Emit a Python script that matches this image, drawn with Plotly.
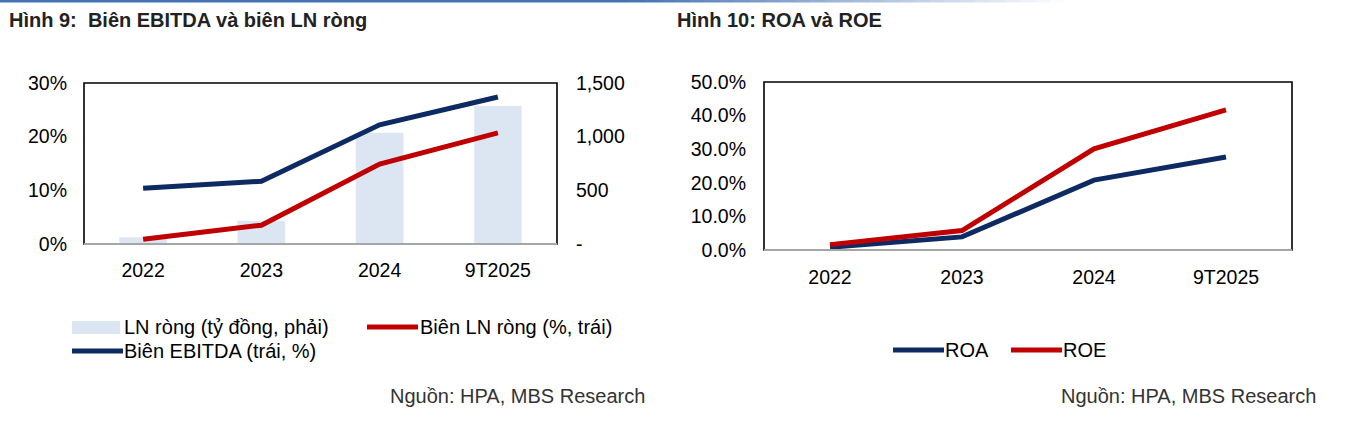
import plotly.graph_objects as go

W, H = 1345, 422

# ---------------- data ----------------
categories = ["2022", "2023", "2024", "9T2025"]
ln_rong = [62, 215, 1035, 1285]            # tỷ đồng (right axis)
bien_ln_rong = [0.009, 0.035, 0.149, 0.207]
bien_ebitda = [0.104, 0.117, 0.222, 0.274]
roa = [0.008, 0.039, 0.208, 0.277]
roe = [0.016, 0.058, 0.301, 0.417]

right_ticks_vals = [0, 500, 1000, 1500]
right_ticks_text = ["-", "500", "1,000", "1,500"]

NAVY = "#0E2A62"
RED = "#C00000"
BAR = "#DCE6F2"
FONT = "Liberation Sans, Arial, sans-serif"
LW = 5


def px(x):
    return x / W


def py(y):
    return 1 - y / H


fig = go.Figure()

# bars on primary y (right side), lines on overlaying y2 (left side) so lines draw above bars
fig.add_trace(go.Bar(x=categories, y=ln_rong, marker_color=BAR, width=0.4,
                     yaxis="y", xaxis="x", name="LN ròng (tỷ đồng, phải)", showlegend=False))
fig.add_trace(go.Scatter(x=categories, y=bien_ebitda, mode="lines", line=dict(color=NAVY, width=LW),
                         xaxis="x", yaxis="y2", name="Biên EBITDA (trái, %)", showlegend=False))
fig.add_trace(go.Scatter(x=categories, y=bien_ln_rong, mode="lines", line=dict(color=RED, width=LW),
                         xaxis="x", yaxis="y2", name="Biên LN ròng (%, trái)", showlegend=False))

fig.add_trace(go.Scatter(x=categories, y=roa, mode="lines", line=dict(color=NAVY, width=LW),
                         xaxis="x3", yaxis="y3", name="ROA", showlegend=False))
fig.add_trace(go.Scatter(x=categories, y=roe, mode="lines", line=dict(color=RED, width=LW),
                         xaxis="x3", yaxis="y3", name="ROE", showlegend=False))

L = dict(x0=84, x1=557, y0=83, y1=244)
R = dict(x0=764, x1=1292, y0=82, y1=250)

tickfont = dict(family=FONT, size=19.5, color="#000000")

fig.update_layout(
    width=W, height=H, margin=dict(l=0, r=0, t=0, b=0, autoexpand=False),
    paper_bgcolor="white", plot_bgcolor="white",
    font=dict(family=FONT, size=19, color="#000"),
    xaxis=dict(domain=[px(L["x0"]), px(L["x1"])], anchor="y", type="category", range=[-0.5, 3.5],
               showline=False, showgrid=False, ticks="", tickfont=tickfont, ticklabelstandoff=12),
    yaxis=dict(domain=[py(L["y1"]), py(L["y0"])], anchor="x", side="right", range=[0, 1500],
               tickvals=right_ticks_vals, ticktext=right_ticks_text, showgrid=False, zeroline=False,
               ticks="", tickfont=tickfont, ticklabelstandoff=18),
    yaxis2=dict(overlaying="y", side="left", anchor="x", range=[0, 0.30], dtick=0.1,
                tickformat=".0%", showgrid=False, zeroline=False, ticks="", tickfont=tickfont,
                ticklabelstandoff=16),
    xaxis3=dict(domain=[px(R["x0"]), px(R["x1"])], anchor="y3", type="category", range=[-0.5, 3.5],
                showline=False, showgrid=False, ticks="", tickfont=tickfont, ticklabelstandoff=13),
    yaxis3=dict(domain=[py(R["y1"]), py(R["y0"])], anchor="x3", range=[0, 0.50], dtick=0.1,
                tickformat=".1%", showgrid=False, zeroline=False, ticks="", tickfont=tickfont,
                ticklabelstandoff=17),
)

shapes = []
# plot frames
for b in (L, R):
    shapes.append(dict(type="rect", xref="paper", yref="paper", x0=px(b["x0"]), x1=px(b["x1"]),
                       y0=py(b["y1"]), y1=py(b["y0"]), line=dict(color="#000", width=1.6),
                       fillcolor="rgba(0,0,0,0)", layer="above"))
    shapes.append(dict(type="line", xref="paper", yref="paper", x0=px(b["x0"]), x1=px(b["x1"]),
                       y0=py(b["y1"]), y1=py(b["y1"]), line=dict(color="#A6A6A6", width=1.8),
                       layer="above"))

# top gradient rule
step = 15
for x in range(0, 1080, step):
    op = 1.0 if x < 620 else max(0.0, 1 - (x - 620) / 440)
    shapes.append(dict(type="line", xref="paper", yref="paper", x0=px(x), x1=px(x + step),
                       y0=py(1.2), y1=py(1.2), line=dict(color="rgba(68,114,180,%.3f)" % op, width=2.6)))

# legend swatches
shapes.append(dict(type="rect", xref="paper", yref="paper", x0=px(72), x1=px(120), y0=py(334), y1=py(321),
                   fillcolor=BAR, line=dict(width=0)))
for (x0, x1, y, c) in [(367, 418, 327, RED), (72, 123, 351, NAVY), (893, 944, 350, NAVY), (1011, 1062, 350, RED)]:
    shapes.append(dict(type="line", xref="paper", yref="paper", x0=px(x0), x1=px(x1), y0=py(y), y1=py(y),
                       line=dict(color=c, width=5)))
fig.update_layout(shapes=shapes)

ann = []


def text(x, y, s, anchor="left", size=20, bold=False, color="#000"):
    ann.append(dict(xref="paper", yref="paper", x=px(x), y=py(y), text=("<b>%s</b>" % s) if bold else s,
                    showarrow=False, xanchor=anchor, yanchor="middle",
                    font=dict(family=FONT, size=size, color=color)))


text(7, 20, "Hình 9:  Biên EBITDA và biên LN ròng", bold=True, color="#222")
text(675, 20, "Hình 10: ROA và ROE", bold=True, color="#222")
text(122, 327, "LN ròng (tỷ đồng, phải)")
text(418, 327, "Biên LN ròng (%, trái)")
text(122, 351, "Biên EBITDA (trái, %)")
text(943, 350, "ROA")
text(1061, 350, "ROE")
text(647, 396, "Nguồn: HPA, MBS Research", anchor="right", color="#333")
text(1318, 396, "Nguồn: HPA, MBS Research", anchor="right", color="#333")
fig.update_layout(annotations=ann)

fig.write_html("out.html")
